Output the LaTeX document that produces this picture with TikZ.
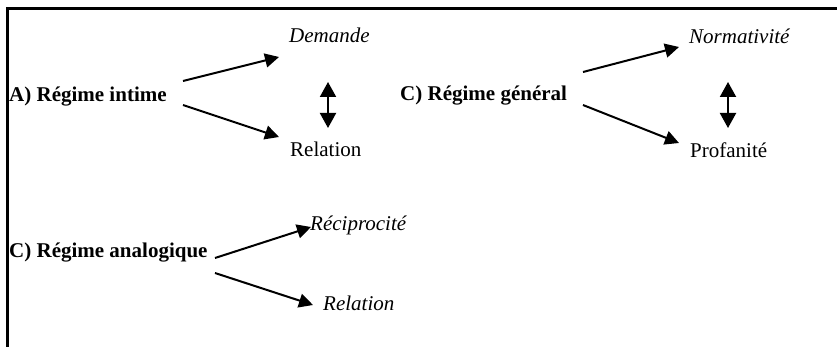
\documentclass[tikz,border=0pt]{standalone}
\usepackage{fontspec}
\setmainfont{Liberation Serif}
\usetikzlibrary{arrows.meta}
\begin{document}
\begin{tikzpicture}[x=1pt,y=-1pt,
  lbl/.style={anchor=base west, inner sep=0pt, font=\fontsize{21}{25}\selectfont},
  ital/.style={lbl, font=\fontsize{21}{25}\selectfont\itshape},
  head/.style={lbl, font=\fontsize{21}{25}\selectfont\bfseries},
  arr/.style={line width=2pt, -{Triangle[length=14pt,width=14pt]}},
  dbl/.style={line width=2pt, {Triangle[length=15pt,width=16pt]}-{Triangle[length=15pt,width=16pt]}}]
\useasboundingbox (0,0) rectangle (837,347);

% open frame: left and top rules
\draw[line width=3pt] (7,347) -- (7,9) -- (840,9);

% A) intimate regime
\node[head] (ai) at (9,102) {A) Régime intime};
\node[ital] (dem) at (289,43) {Demande};
\node[lbl] (rel) at (290,157) {Relation};
\coordinate (aiU) at (183,81);
\coordinate (aiD) at (183,105);
\coordinate (demT) at (279,57);
\coordinate (relT) at (279,137);
\draw[arr] (aiU) -- (demT);
\draw[arr] (aiD) -- (relT);
\coordinate (aiX1) at (328,82);
\coordinate (aiX2) at (328,128);
\draw[dbl] (aiX1) -- (aiX2);

% C) general regime
\node[head] (cg) at (400,101) {C) Régime général};
\node[ital] (nor) at (689,44) {Normativité};
\node[lbl] (pro) at (690,158) {Profanité};
\coordinate (cgU) at (583,72);
\coordinate (cgD) at (583,105);
\coordinate (norT) at (679,47);
\coordinate (proT) at (679,143);
\draw[arr] (cgU) -- (norT);
\draw[arr] (cgD) -- (proT);
\coordinate (cgX1) at (728,82);
\coordinate (cgX2) at (728,128);
\draw[dbl] (cgX1) -- (cgX2);

% C) analogical regime
\node[head] (ca) at (9,258) {C) Régime analogique};
\node[ital] (rec) at (310,231) {Réciprocité};
\node[ital] (rel2) at (323,310) {Relation};
\coordinate (caU) at (215,258);
\coordinate (caD) at (215,273);
\coordinate (recT) at (311,227);
\coordinate (rel2T) at (313,305);
\draw[arr] (caU) -- (recT);
\draw[arr] (caD) -- (rel2T);
\end{tikzpicture}
\end{document}
